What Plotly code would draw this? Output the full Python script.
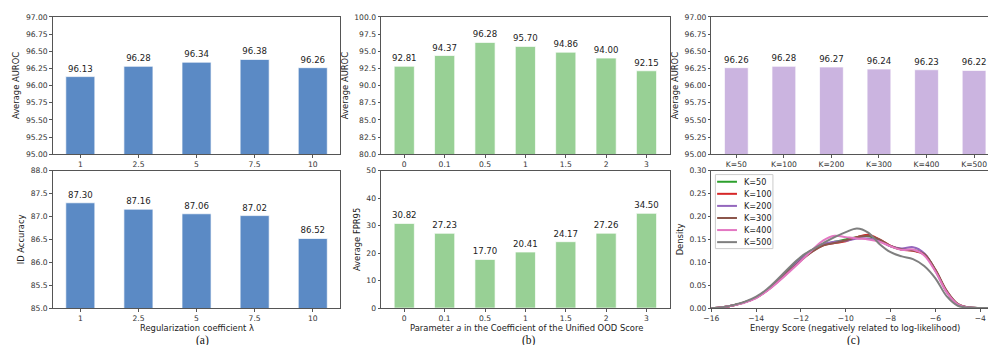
import plotly.graph_objects as go
from plotly.subplots import make_subplots

# ---------------- data ----------------
lam_cats = ["1", "2.5", "5", "7.5", "10"]
lam_auroc = [96.13, 96.28, 96.34, 96.38, 96.26]
lam_acc = [87.30, 87.16, 87.06, 87.02, 86.52]

a_cats = ["0", "0.1", "0.5", "1", "1.5", "2", "3"]
a_auroc = [92.81, 94.37, 96.28, 95.70, 94.86, 94.00, 92.15]
a_fpr = [30.82, 27.23, 17.70, 20.41, 24.17, 27.26, 34.50]

k_cats = ["K=50", "K=100", "K=200", "K=300", "K=400", "K=500"]
k_auroc = [96.26, 96.28, 96.27, 96.24, 96.23, 96.22]

energy_x = [-16, -15.5, -15, -14.5, -14, -13.5, -13, -12.5, -12, -11.5, -11, -10.5, -10,
            -9.5, -9, -8.5, -8, -7.5, -7, -6.5, -6, -5.5, -5, -4.5, -4, -3.5]
dens_k50 = [0.000, 0.002, 0.006, 0.013, 0.023, 0.040, 0.062, 0.087, 0.110, 0.127, 0.138, 0.145, 0.150,
            0.155, 0.157, 0.148, 0.135, 0.128, 0.127, 0.118, 0.082, 0.036, 0.008, 0.001, 0.000, 0.000]
dens_k100 = [0.000, 0.002, 0.006, 0.013, 0.023, 0.039, 0.060, 0.083, 0.105, 0.124, 0.137, 0.142, 0.146,
             0.155, 0.160, 0.150, 0.136, 0.128, 0.125, 0.117, 0.083, 0.037, 0.008, 0.001, 0.000, 0.000]
dens_k200 = [0.000, 0.002, 0.006, 0.013, 0.023, 0.039, 0.060, 0.084, 0.107, 0.126, 0.140, 0.145, 0.147,
             0.152, 0.152, 0.147, 0.135, 0.130, 0.133, 0.120, 0.082, 0.036, 0.008, 0.001, 0.000, 0.000]
dens_k300 = [0.000, 0.002, 0.006, 0.013, 0.023, 0.039, 0.059, 0.082, 0.104, 0.123, 0.137, 0.142, 0.148,
             0.155, 0.158, 0.150, 0.136, 0.128, 0.126, 0.118, 0.084, 0.038, 0.009, 0.001, 0.000, 0.000]
dens_k400 = [0.000, 0.002, 0.006, 0.012, 0.022, 0.038, 0.058, 0.080, 0.103, 0.127, 0.148, 0.158, 0.155,
             0.152, 0.150, 0.145, 0.135, 0.127, 0.128, 0.115, 0.080, 0.035, 0.008, 0.001, 0.000, 0.000]
dens_k500 = [0.000, 0.002, 0.007, 0.014, 0.025, 0.042, 0.065, 0.090, 0.112, 0.128, 0.142, 0.155, 0.166,
             0.174, 0.165, 0.140, 0.122, 0.113, 0.107, 0.092, 0.065, 0.026, 0.005, 0.001, 0.000, 0.000]
dens_series = [("K=50", dens_k50, "#2ca02c"), ("K=100", dens_k100, "#d62728"),
               ("K=200", dens_k200, "#9467bd"), ("K=300", dens_k300, "#8c564b"),
               ("K=400", dens_k400, "#e377c2"), ("K=500", dens_k500, "#7f7f7f")]

# ---------------- styles ----------------
FONT = "DejaVu Sans"
BLUE, GREEN, PURPLE = "#5b8ac5", "#98d095", "#cbb4e0"
TICK_SZ, TITLE_SZ, LBL_SZ = 7.6, 8.4, 8.6

fig = make_subplots(rows=2, cols=3)

def add_bars(cats, vals, color, row, col):
    fig.add_trace(go.Bar(
        x=cats, y=vals, width=0.5, marker=dict(color=color, line=dict(color="rgba(255,255,255,0.7)", width=1)),
        text=[f"{v:.2f}" for v in vals], textposition="outside", constraintext="none",
        textfont=dict(family=FONT, size=LBL_SZ, color="#222"), showlegend=False,
    ), row=row, col=col)

add_bars(lam_cats, lam_auroc, BLUE, 1, 1)
add_bars(lam_cats, lam_acc, BLUE, 2, 1)
add_bars(a_cats, a_auroc, GREEN, 1, 2)
add_bars(a_cats, a_fpr, GREEN, 2, 2)
add_bars(k_cats, k_auroc, PURPLE, 1, 3)

for name, ys, c in dens_series:
    fig.add_trace(go.Scatter(x=energy_x, y=ys, mode="lines", name=name,
                             line=dict(color=c, width=2, shape="spline", smoothing=1.0),
                             showlegend=False), row=2, col=3)

W, H = 996, 345
def px_x(a, b):
    return [a / W, b / W]
def px_y(top, bot):
    return [(H - bot) / H, (H - top) / H]

colx = [px_x(37, 327), px_x(368, 659), px_x(701, 991)]
rowy = [px_y(5, 146), px_y(163, 304)]

axis_common = dict(showline=True, mirror=True, linecolor="#555", linewidth=1, showgrid=False,
                   zeroline=False, ticks="outside", ticklen=2.5, tickcolor="#555",
                   tickfont=dict(family=FONT, size=TICK_SZ, color="#333"))

xranges = [[-0.475, 4.475], [-0.575, 6.575], [-0.525, 5.525]]
yspecs = {
    (1, 1): dict(range=[95, 97], dtick=0.25, tickformat=".2f", title="Average AUROC"),
    (2, 1): dict(range=[85, 88], dtick=0.5, tickformat=".1f", title="ID Accuracy"),
    (1, 2): dict(range=[80, 100], dtick=2.5, tickformat=".1f", title="Average AUROC"),
    (2, 2): dict(range=[0, 50], dtick=10, tickformat="d", title="Average FPR95"),
    (1, 3): dict(range=[95, 97], dtick=0.25, tickformat=".2f", title="Average AUROC"),
    (2, 3): dict(range=[0, 0.30], dtick=0.05, tickformat=".2f", title="Density"),
}
xtitles = [("Regularization coefficient \u03bb", 182),
           ("Parameter <i>a</i> in the Coefficient of the Unified OOD Score", 515),
           ("Energy Score (negatively related to log-likelihood)", 846)]

for r in (1, 2):
    for c in (1, 2, 3):
        idx = (r - 1) * 3 + c
        xk = "xaxis" if idx == 1 else f"xaxis{idx}"
        yk = "yaxis" if idx == 1 else f"yaxis{idx}"
        xa = dict(axis_common, domain=colx[c - 1])
        if (r, c) == (2, 3):
            xa.update(range=[-16, -3.16], dtick=2, tick0=-16, tickformat="d")
        else:
            xa.update(type="category", range=xranges[c - 1])
        ys = yspecs[(r, c)]
        ya = dict(axis_common, domain=rowy[r - 1], range=ys["range"], dtick=ys["dtick"],
                  tickformat=ys["tickformat"],
                  title=dict(text=ys["title"], standoff=4, font=dict(family=FONT, size=TITLE_SZ, color="#222")))
        fig.layout[xk].update(xa)
        fig.layout[yk].update(ya)

# x-axis titles of the bottom row
for txt, cx in xtitles:
    fig.add_annotation(xref="paper", yref="paper", x=cx / W, y=(H - 324.5) / H, text=txt, showarrow=False,
                       xanchor="center", yanchor="middle", borderpad=0,
                       font=dict(family=FONT, size=TITLE_SZ, color="#222"))

# manual legend for density panel (inside axes, top-left)
fig.add_shape(type="rect", xref="x6 domain", yref="y6 domain", x0=0.014, x1=0.214, y0=0.433, y1=0.972,
              line=dict(color="#cccccc", width=1), fillcolor="rgba(255,255,255,0.8)", layer="above")
for i, (name, ys, c) in enumerate(dens_series):
    yy = (304 - (174.3 + 12.4 * i)) / 141
    fig.add_shape(type="line", xref="x6 domain", yref="y6 domain", x0=0.02, x1=0.089, y0=yy, y1=yy,
                  line=dict(color=c, width=2), layer="above")
    fig.add_annotation(xref="x6 domain", yref="y6 domain", x=0.106, y=yy, text=name, showarrow=False,
                       xanchor="left", yanchor="middle",
                       font=dict(family=FONT, size=8.1, color="#222"))

for lab, cx in (("(a)", 188), ("(b)", 517), ("(c)", 844)):
    fig.add_annotation(xref="paper", yref="paper", x=cx / W, y=(H - 337.5) / H, text=lab, showarrow=False,
                       xanchor="center", yanchor="middle", borderpad=0,
                       font=dict(family="Liberation Serif", size=11.5, color="#111"))

fig.update_layout(width=W, height=H, margin=dict(l=0, r=0, t=0, b=0),
                  paper_bgcolor="white", plot_bgcolor="white", bargap=0.5,
                  font=dict(family=FONT))

fig.write_html("out.html")
